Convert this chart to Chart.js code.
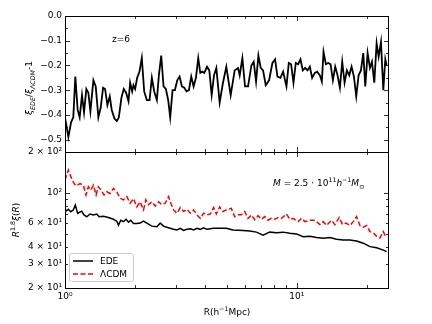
<!DOCTYPE html>
<html><head><meta charset="utf-8">
<script src="https://cdn.jsdelivr.net/npm/chart.js@4/dist/chart.umd.min.js"></script>
<style>
html,body{margin:0;padding:0;background:#fff;}
#wrap{position:relative;width:432px;height:324px;background:#fff;}
canvas{position:absolute;left:0;top:0;}
</style></head><body>
<div id="wrap"><canvas id="c1" width="432" height="324"></canvas><canvas id="c2" width="432" height="324"></canvas></div>
<script>
// ---- data ----
const ratioR = [1.000,1.034,1.062,1.086,1.108,1.134,1.157,1.184,1.208,1.236,1.261,1.287,1.326,1.357,1.393,1.426,1.460,1.489,1.524,1.560,1.591,1.634,1.673,1.707,1.752,1.793,1.835,1.879,1.910,1.949,1.974,2.007,2.048,2.096,2.145,2.196,2.255,2.316,2.370,2.426,2.491,2.541,2.601,2.662,2.724,2.788,2.844,2.911,2.980,3.050,3.121,3.195,3.270,3.346,3.425,3.505,3.588,3.672,3.758,3.834,3.911,3.990,4.097,4.194,4.293,4.394,4.497,
4.648,4.804,4.967,5.186,5.397,5.579,5.672,5.825,5.981,6.163,6.371,6.520,6.673,6.830,6.990,7.155,7.347,7.595,7.852,8.063,8.252,8.502,8.731,9.026,9.238,9.455,9.677,9.904,10.137,10.375,10.619,10.868,11.124,11.385,11.652,11.966,12.247,12.577,12.830,13.045,13.352,13.666,13.987,14.316,14.652,14.996,15.348,15.709,16.078,16.455,16.842,17.238,17.643,18.057,18.482,18.916,19.360,19.750,20.214,20.689,21.105,21.601,22.108,22.553,23.083,23.625,24.101,24.423];
const ratioV = [-0.41,-0.49,-0.43,-0.41,-0.245,-0.38,-0.41,-0.32,-0.39,-0.295,-0.31,-0.385,-0.26,-0.285,-0.41,-0.37,-0.29,-0.295,-0.36,-0.325,-0.38,-0.415,-0.425,-0.41,-0.33,-0.295,-0.31,-0.345,-0.27,-0.305,-0.28,-0.295,-0.25,-0.225,-0.17,-0.305,-0.34,-0.34,-0.25,-0.305,-0.34,-0.24,-0.16,-0.285,-0.295,-0.34,-0.41,-0.30,-0.30,-0.26,-0.245,-0.285,-0.29,-0.305,-0.30,-0.245,-0.285,-0.25,-0.17,-0.23,-0.225,-0.23,-0.205,-0.22,-0.32,-0.24,-0.21,
-0.35,-0.27,-0.205,-0.32,-0.22,-0.21,-0.24,-0.17,-0.285,-0.285,-0.20,-0.185,-0.265,-0.16,-0.21,-0.22,-0.28,-0.26,-0.19,-0.175,-0.245,-0.25,-0.225,-0.285,-0.19,-0.195,-0.27,-0.19,-0.195,-0.175,-0.22,-0.21,-0.22,-0.205,-0.25,-0.23,-0.225,-0.24,-0.265,-0.145,-0.195,-0.19,-0.195,-0.26,-0.205,-0.24,-0.29,-0.185,-0.27,-0.22,-0.24,-0.205,-0.245,-0.325,-0.24,-0.22,-0.15,-0.285,-0.15,-0.21,-0.185,-0.27,-0.11,-0.165,-0.105,-0.30,-0.175,-0.20];

const edeR = [1.000,1.034,1.058,1.086,1.108,1.134,1.180,1.208,1.241,1.283,1.326,1.371,1.403,1.465,1.539,1.618,1.673,1.701,1.741,1.788,1.835,1.879,1.922,1.974,2.041,2.110,2.182,2.255,2.370,2.491,2.575,2.662,2.752,2.844,2.940,3.040,3.143,3.249,3.358,3.471,3.588,3.709,3.834,3.963,4.097,4.379,4.967,5.306,5.865,6.266,6.695,7.155,7.645,8.170,8.731,9.330,9.970,10.654,11.385,12.167,13.002,13.894,14.848,15.866,16.955,18.118,19.360,20.689,22.108,23.625,24.423];
const edeV = [72.8,75.8,72.8,75,81.5,70.8,73.5,69,66.8,70,69,70,66.8,67.5,66,64,62,58,63,61.5,64,61,63,59.7,59.5,60,62,60,57,56.5,60,57,56,55,54,53.4,55,53,54,54.5,53.5,55,54,55.5,54,55,55,53.5,53,52.5,51.5,49,51.5,51,51.5,50.5,50,47.7,48,47,46.5,47,45.7,45,45,44.3,42.7,40.3,39.5,38,37];

const lcdmR = [1.000,1.034,1.058,1.086,1.116,1.161,1.200,1.232,1.261,1.291,1.326,1.362,1.393,1.431,1.474,1.514,1.565,1.618,1.673,1.729,1.788,1.848,1.910,1.974,2.041,2.110,2.182,2.233,2.293,2.370,2.450,2.533,2.618,2.706,2.798,2.863,2.940,3.040,3.143,3.249,3.358,3.471,3.588,3.709,3.834,3.963,4.097,4.235,4.379,4.497,
4.648,4.804,4.967,5.220,5.397,5.579,5.768,5.962,6.163,6.371,6.586,6.807,7.037,7.274,7.519,7.774,8.036,8.306,8.587,9.026,9.330,9.645,10.137,10.479,10.832,11.385,11.966,12.577,13.002,13.441,14.126,14.603,15.247,15.761,16.293,16.955,17.526,18.118,18.729,19.360,20.014,20.689,21.387,22.108,22.854,23.625,24.022,24.423];
const lcdmV = [124.5,147.5,133,120,112.5,117,114,96.6,111,105,114,96.6,111,105,96.6,102,99,108,102,91.4,89,94,84,91,79,86,75,89,82,86,80,86,82,84,94,84,75,70.8,78,73,76,71,75,69,65,71,69,70,78,70,
79,73,75,77,66.8,69,69,73,65,69,63.5,68,64,67,63,65,64,66,65,70,64,65,61.5,65,61.5,63,63,58.5,61.5,57.6,63,58.5,66,58.5,60,57.6,61.5,67,57.6,56,57.6,51.9,51,48,46.7,52,49,50];

const ratioTicks = [0, -0.1, -0.2, -0.3, -0.4, -0.5];
const ratioMinorTicks = [-0.05, -0.15, -0.25, -0.35, -0.45];
const ampTicks = [20, 30, 40, 60, 100, 200];
const ampTickLabels = ['2 × 10¹', '3 × 10¹', '4 × 10¹', '6 × 10¹', '10²', '2 × 10²'];
const ampMajorTicks = [100];
const ampMinorTicks = [20, 30, 40, 50, 60, 70, 80, 90, 200];
const xTicks = [1, 10];
const xTickLabels = ['10⁰', '10¹'];
const xMinorTicks = [2, 3, 4, 5, 6, 7, 8, 9, 20];
const seriesNames = ['EDE', 'ΛCDM'];

// ---- helpers ----
const FAM = '"DejaVu Sans"';
function fontFor(p, size) {
  const s = (p.sup || p.sub) ? size * 0.7 : size;
  return (p.it ? 'italic ' : '') + s + 'px ' + FAM;
}
function drawRich(ctx, parts, x, y, size, align) {
  let w = 0;
  parts.forEach(p => { ctx.font = fontFor(p, size); w += ctx.measureText(p.t).width; });
  let cx = align === 'center' ? x - w / 2 : x;
  ctx.textAlign = 'left'; ctx.textBaseline = 'alphabetic';
  parts.forEach(p => {
    ctx.font = fontFor(p, size);
    const dy = p.sup ? -size * 0.42 : (p.sub ? size * 0.28 : 0);
    ctx.fillText(p.t, cx, y + dy);
    cx += ctx.measureText(p.t).width;
  });
}
function drawFrame(chart, yMajor, yMinor, xMajor, xMinor) {
  const { ctx, chartArea: { left, right, top, bottom }, scales: { x, y } } = chart;
  ctx.save();
  ctx.strokeStyle = '#000'; ctx.lineWidth = 1;
  ctx.strokeRect(Math.round(left) + 0.5, Math.round(top) + 0.5, Math.round(right - left) - 1, Math.round(bottom - top));
  ctx.lineWidth = 0.8;
  ctx.beginPath();
  const tick = (vals, len) => {
    vals.forEach(v => {
      const px = Math.round(x.getPixelForValue(v)) + 0.5;
      ctx.moveTo(px, bottom); ctx.lineTo(px, bottom - len);
      ctx.moveTo(px, top); ctx.lineTo(px, top + len);
    });
  };
  const ytick = (vals, len) => {
    vals.forEach(v => {
      const py = Math.round(y.getPixelForValue(v)) + 0.5;
      ctx.moveTo(left, py); ctx.lineTo(left + len, py);
      ctx.moveTo(right, py); ctx.lineTo(right - len, py);
    });
  };
  tick(xMajor, 5); tick(xMinor, 3);
  ytick(yMajor, 5); ytick(yMinor, 3);
  ctx.stroke();
  ctx.restore();
}

const topPlugin = {
  id: 'topDeco',
  afterDraw(chart) {
    drawFrame(chart, ratioTicks, ratioMinorTicks, xTicks, xMinorTicks);
    const ctx = chart.ctx;
    ctx.save();
    ctx.fillStyle = '#000';
    drawRich(ctx, [{ t: 'z=6' }], 112, 41.5, 9, 'left');
    ctx.translate(32, 88);
    ctx.rotate(-Math.PI / 2);
    drawRich(ctx, [{ t: 'ξ', it: 1 }, { t: 'EDE', it: 1, sub: 1 }, { t: '/' }, { t: 'ξ', it: 1 }, { t: 'ΛCDM', it: 1, sub: 1 }, { t: '-1' }], 0, 0, 9, 'center');
    ctx.restore();
  }
};

const botPlugin = {
  id: 'botDeco',
  afterDraw(chart) {
    drawFrame(chart, ampMajorTicks, ampMinorTicks, xTicks, xMinorTicks);
    const ctx = chart.ctx;
    ctx.save();
    ctx.fillStyle = '#000';
    // y title
    ctx.save();
    ctx.translate(19, 220);
    ctx.rotate(-Math.PI / 2);
    drawRich(ctx, [{ t: 'R', it: 1 }, { t: '1.8', sup: 1 }, { t: 'ξ', it: 1 }, { t: '(' }, { t: 'R', it: 1 }, { t: ')' }], 0, 0, 9, 'center');
    ctx.restore();
    // x title
    drawRich(ctx, [{ t: 'R(h' }, { t: '−1', sup: 1 }, { t: 'Mpc)' }], 227, 315, 9, 'center');
    // mass annotation
    drawRich(ctx, [{ t: 'M', it: 1 }, { t: ' = 2.5 · 10' }, { t: '11', sup: 1 }, { t: 'h', it: 1 }, { t: '−1', sup: 1 }, { t: 'M', it: 1 }, { t: '⊙', sub: 1 }], 273, 186, 9, 'left');
    // legend
    const lx = 69, ly = 253, lw = 64, lh = 28;
    ctx.beginPath();
    if (ctx.roundRect) ctx.roundRect(lx + 0.5, ly + 0.5, lw, lh, 2); else ctx.rect(lx + 0.5, ly + 0.5, lw, lh);
    ctx.fillStyle = 'rgba(255,255,255,0.85)'; ctx.fill();
    ctx.strokeStyle = '#cccccc'; ctx.lineWidth = 1; ctx.stroke();
    chart.data.datasets.forEach((ds, i) => {
      const yy = ly + 8 + i * 13;
      ctx.beginPath();
      ctx.strokeStyle = ds.borderColor; ctx.lineWidth = ds.borderWidth;
      ctx.setLineDash(ds.borderDash || []);
      ctx.moveTo(lx + 4, yy); ctx.lineTo(lx + 24, yy);
      ctx.stroke();
      ctx.setLineDash([]);
      ctx.fillStyle = '#000';
      ctx.font = '9px ' + FAM; ctx.textAlign = 'left'; ctx.textBaseline = 'middle';
      ctx.fillText(seriesNames[i], lx + 31, yy + 0.5);
    });
    ctx.restore();
  }
};

const tickFont = { family: 'DejaVu Sans', size: 9 };

new Chart(document.getElementById('c1'), {
  type: 'line',
  data: { datasets: [{
    data: ratioR.map((r, i) => ({ x: r, y: ratioV[i] })),
    borderColor: '#000', borderWidth: 1.8, pointRadius: 0, tension: 0, fill: false
  }] },
  options: {
    responsive: false, animation: false, events: [],
    layout: { padding: { left: 0, right: 43, top: 16, bottom: 172 } },
    plugins: { legend: { display: false }, tooltip: { enabled: false } },
    scales: {
      x: { type: 'logarithmic', min: 1, max: 25, display: false },
      y: {
        type: 'linear', min: -0.55, max: 0,
        grid: { display: false, drawTicks: false }, border: { display: false },
        afterBuildTicks: s => { s.ticks = ratioTicks.map(v => ({ value: v })); },
        afterFit: s => { s.width = 65; },
        ticks: { color: '#000', font: tickFont, padding: 3, callback: v => Number(v).toFixed(1).replace('-', '−') }
      }
    }
  },
  plugins: [topPlugin]
});

new Chart(document.getElementById('c2'), {
  type: 'line',
  data: { datasets: [
    { data: edeR.map((r, i) => ({ x: r, y: edeV[i] })), borderColor: '#000', borderWidth: 1.5, pointRadius: 0, tension: 0, fill: false },
    { data: lcdmR.map((r, i) => ({ x: r, y: lcdmV[i] })), borderColor: '#ff0000', borderWidth: 1.5, borderDash: [5, 2.5], pointRadius: 0, tension: 0, fill: false }
  ] },
  options: {
    responsive: false, animation: false, events: [],
    layout: { padding: { left: 0, right: 43, top: 152, bottom: 0 } },
    plugins: { legend: { display: false }, tooltip: { enabled: false } },
    scales: {
      x: {
        type: 'logarithmic', min: 1, max: 25,
        grid: { display: false, drawTicks: false }, border: { display: false },
        afterBuildTicks: s => { s.ticks = xTicks.map(v => ({ value: v })); },
        afterFit: s => { s.height = 36; },
        ticks: { color: '#000', font: tickFont, padding: 3, maxRotation: 0, autoSkip: false, callback: (v, i) => xTickLabels[i] }
      },
      y: {
        type: 'logarithmic', min: 20, max: 200,
        grid: { display: false, drawTicks: false }, border: { display: false },
        afterBuildTicks: s => { s.ticks = ampTicks.map(v => ({ value: v })); },
        afterFit: s => { s.width = 65; },
        ticks: { color: '#000', font: tickFont, padding: 3, autoSkip: false, callback: (v, i) => ampTickLabels[i] }
      }
    }
  },
  plugins: [botPlugin]
});
</script>
</body></html>
